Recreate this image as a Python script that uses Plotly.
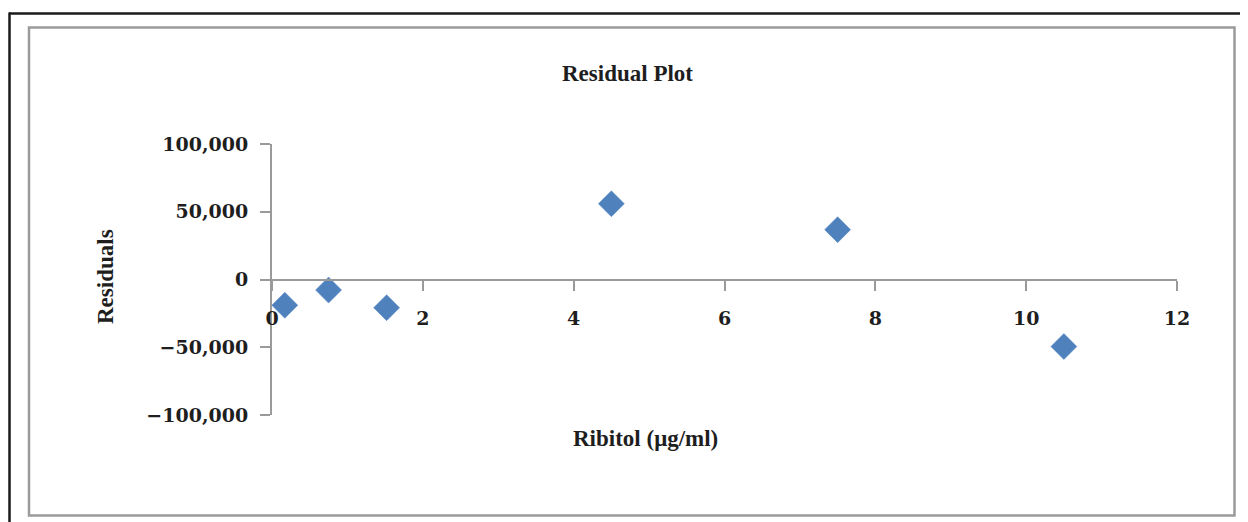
import plotly.graph_objects as go

# Data
ribitol = [0.17, 0.75, 1.52, 4.5, 7.5, 10.5]
residuals = [-19000, -7800, -20800, 55900, 36800, -49500]

x_ticks = [0, 2, 4, 6, 8, 10, 12]
y_ticks = [-100000, -50000, 0, 50000, 100000]
y_ticktext = ["\u2212100,000", "\u221250,000", "0", "50,000", "100,000"]

# The page body has an 8px default margin; lay the figure out in
# reference-screen pixels and shift by that offset.
OFF = 8
W, H = 1248 - OFF, 522 - OFF
L, R, T, B = 272 - OFF, 1177 - OFF, 144 - OFF, 415 - OFF  # plot area


def px_x(p):
    return (p - OFF - L) / (R - L)


def px_y(p):
    return (B - (p - OFF)) / (B - T)


tick_font = dict(family="DejaVu Serif", size=19, color="#1e1e1e", weight="bold")
label_font = dict(family="Liberation Serif", size=23, color="#1e1e1e")
axis_col = "#9a9a9a"

fig = go.Figure()
fig.add_trace(go.Scatter(
    x=ribitol, y=residuals, mode="markers",
    marker=dict(symbol="diamond", size=20, color="#4F81BD",
                line=dict(color="#5B8CC6", width=0.5)),
    showlegend=False, hoverinfo="x+y",
))

fig.update_layout(
    width=W, height=H,
    margin=dict(l=L, r=W - R, t=T, b=H - B, pad=0),
    paper_bgcolor="white", plot_bgcolor="white",
    title=dict(text="<b>Residual Plot</b>", x=(627.5 - OFF) / W, xanchor="center",
               y=1 - (73 - OFF) / H, yanchor="middle", yref="container",
               font=dict(family="Liberation Serif", size=23, color="#1e1e1e")),
    xaxis=dict(range=[0, 12], tickvals=x_ticks, showgrid=False, zeroline=False,
               showline=True, linecolor=axis_col, linewidth=2,
               ticks="outside", ticklen=10, tickwidth=2, tickcolor=axis_col,
               tickfont=tick_font, ticklabelstandoff=12,
               anchor="free", position=0.5),
    yaxis=dict(range=[-100000, 100000], tickvals=y_ticks, ticktext=y_ticktext,
               showgrid=False, zeroline=False,
               showline=True, linecolor=axis_col, linewidth=2,
               ticks="outside", ticklen=10, tickwidth=2, tickcolor=axis_col,
               tickfont=tick_font, ticklabelstandoff=8),
    annotations=[
        dict(text="<b>Ribitol (μg/ml)</b>", xref="paper", yref="paper",
             x=px_x(645), y=px_y(438), xanchor="center", yanchor="middle",
             showarrow=False, font=label_font),
        dict(text="<b>Residuals</b>", xref="paper", yref="paper",
             x=px_x(105), y=px_y(277), xanchor="center", yanchor="middle",
             textangle=-90, showarrow=False, font=label_font),
    ],
    shapes=[
        # outer black frame (top and left)
        dict(type="line", xref="paper", yref="paper",
             x0=px_x(9), x1=px_x(1248), y0=px_y(13.5), y1=px_y(13.5),
             line=dict(color="#1a1a1a", width=2.5)),
        dict(type="line", xref="paper", yref="paper",
             x0=px_x(9.5), x1=px_x(9.5), y0=px_y(12.5), y1=px_y(522),
             line=dict(color="#1a1a1a", width=2.5)),
        # inner grey chart-area box
        dict(type="rect", xref="paper", yref="paper",
             x0=px_x(29), x1=px_x(1234.5), y0=px_y(27.5), y1=px_y(515.5),
             line=dict(color="#9a9a9a", width=2.5), layer="below"),
    ],
)

fig.write_html("out.html")
